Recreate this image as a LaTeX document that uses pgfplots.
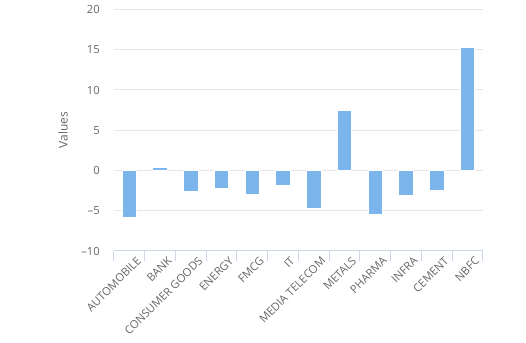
\documentclass[border=0pt]{standalone}
\usepackage{fontspec}
\setmainfont{Open Sans}
\usepackage{pgfplots}
\pgfplotsset{compat=1.18}
\definecolor{barblue}{HTML}{7CB5EC}
\definecolor{gridc}{HTML}{E6E6E6}
\definecolor{axisc}{HTML}{CCD6EB}
\definecolor{textc}{HTML}{666666}
\begin{document}
\begin{tikzpicture}
\useasboundingbox (0,0) rectangle (394.5pt,257.25pt);
\begin{axis}[
  at={(85.5pt,69pt)}, anchor=south west,
  scale only axis, width=276.75pt, height=181.125pt,
  xmin=-0.5, xmax=11.5, ymin=-10, ymax=20,
  ytick={-10,-5,0,5,10,15,20},
  yticklabels={--10,--5,0,5,10,15,20},
  xtick={0,...,11},
  xticklabels={AUTOMOBILE,BANK,CONSUMER GOODS,ENERGY,FMCG,IT,MEDIA TELECOM,METALS,PHARMA,INFRA,CEMENT,NBFC},
  minor xtick={-0.5,0.5,...,11.5},
  axis x line*=bottom, axis y line*=left,
  x axis line style={color=axisc, line width=0.75pt, -},
  y axis line style={draw=none},
  ymajorgrids, grid style={gridc, line width=0.75pt},
  major tick length=0pt, minor tick length=7.5pt, tick align=outside,
  minor x tick style={color=axisc, line width=0.75pt},
  major tick style={draw=none},
  ticklabel style={font=\fontsize{8.4}{10}\selectfont, color=textc},
  yticklabel style={inner sep=0pt, xshift=-10.5pt},
  xticklabel style={rotate=45, anchor=north east, inner sep=0pt, yshift=-6pt, xshift=1pt},
  ylabel={Values},
  every axis y label/.style={at={(axis description cs:-0.1382,0.5)}, rotate=90, anchor=center, font=\fontsize{9}{11}\selectfont, color=textc},
  clip=false,
]
\addplot[ybar, bar width=11pt, fill=barblue, draw=white, line width=0.75pt] coordinates {
  (0,-5.8) (1,0.4) (2,-2.6) (3,-2.2) (4,-3.0) (5,-1.9)
  (6,-4.7) (7,7.5) (8,-5.5) (9,-3.1) (10,-2.5) (11,15.3)
};
\end{axis}
\end{tikzpicture}
\end{document}
